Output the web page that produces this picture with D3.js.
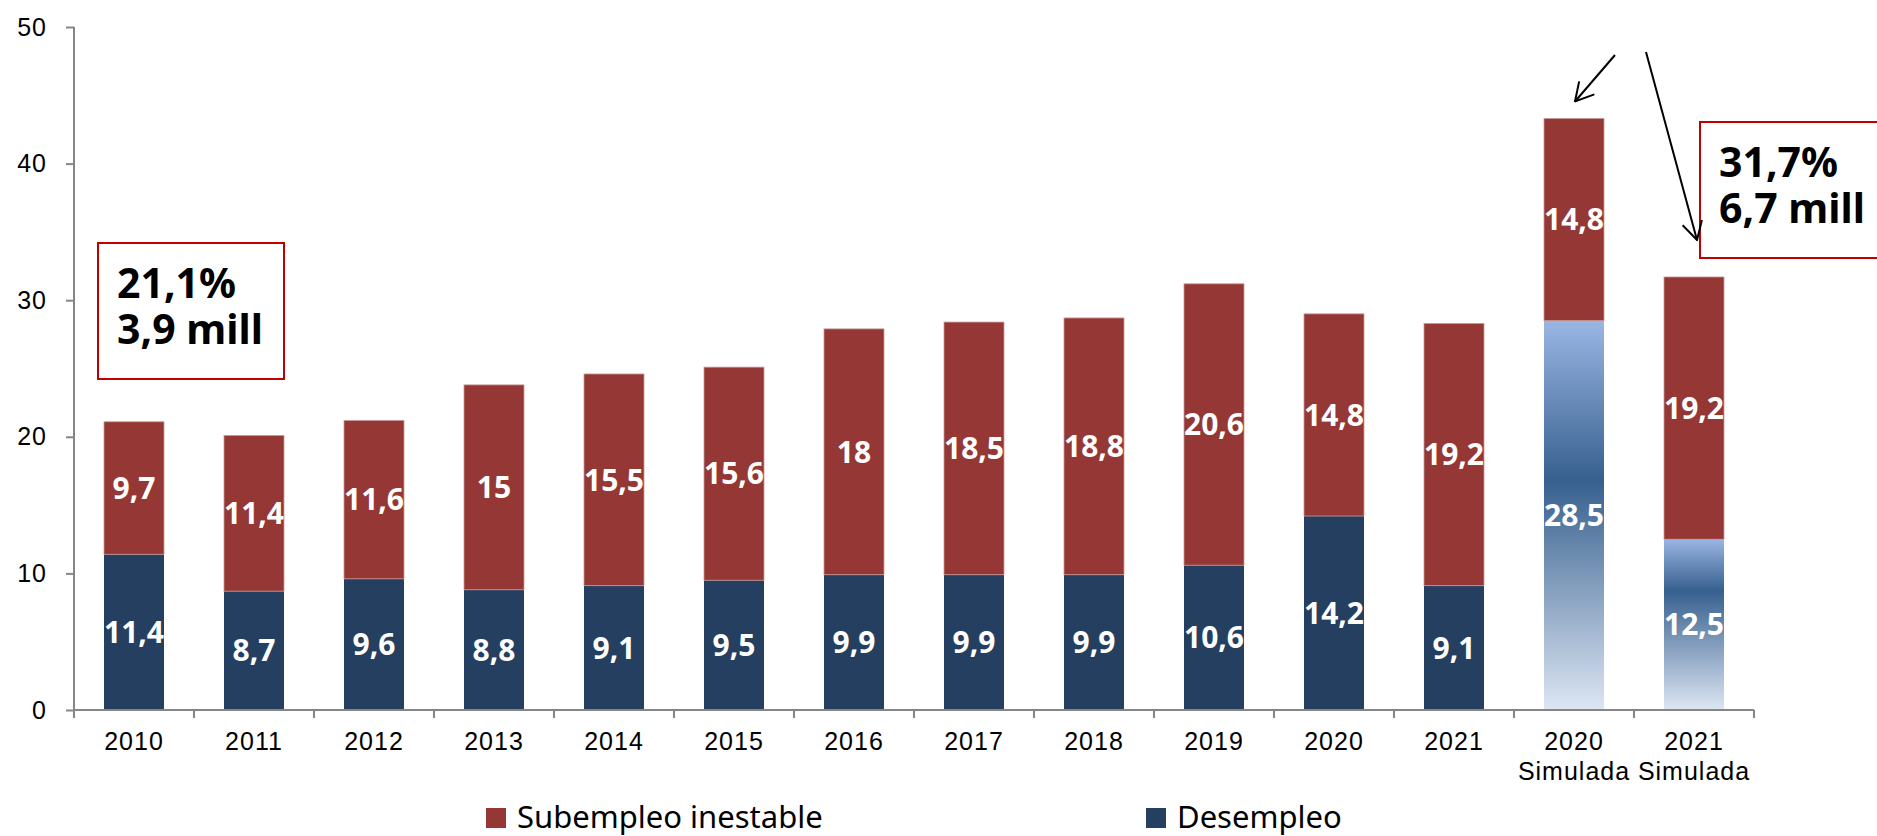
<!DOCTYPE html>
<html>
<head>
<meta charset="utf-8">
<script src="https://cdn.jsdelivr.net/npm/d3@7"></script>
<style>
  html, body { margin: 0; padding: 0; background: #fff; }
  svg { display: block; }
</style>
</head>
<body>
<div class="canvas"></div>
<script>
// data
const categories = ["2010", "2011", "2012", "2013", "2014", "2015", "2016", "2017",
  "2018", "2019", "2020", "2021", "2020 Simulada", "2021 Simulada"];
const desempleo = [11.4, 8.7, 9.6, 8.8, 9.1, 9.5, 9.9, 9.9, 9.9, 10.6, 14.2, 9.1, 28.5, 12.5];
const subempleo = [9.7, 11.4, 11.6, 15, 15.5, 15.6, 18, 18.5, 18.8, 20.6, 14.8, 19.2, 14.8, 19.2];
const yTicks = [0, 10, 20, 30, 40, 50];
const legendLabels = ["Subempleo inestable", "Desempleo"];
const boxLeft = ["21,1%", "3,9 mill"];
const boxRight = ["31,7%", "6,7 mill"];

const W = 1877, H = 836;
const red = "#953735", navy = "#243f60", axisGray = "#868686", boxRed = "#c00000";

const svg = d3.select('.canvas')
  .append('svg')
  .attr('width', W)
  .attr('height', H);

svg.append("rect").attr("width", W).attr("height", H).attr("fill", "#fff");

const x = d3.scaleBand().domain(categories).range([74, 1754]).padding(0);
const y = d3.scaleLinear().domain([0, 50]).range([710, 27]);
const barW = x.bandwidth() * 0.5;

const table = categories.map((c, i) => ({ cat: c, desempleo: desempleo[i], subempleo: subempleo[i] }));
const series = d3.stack().keys(["desempleo", "subempleo"])(table);

// gradients for the simulated bars
const defs = svg.append("defs");
const simIdx = categories.map((c, i) => c.includes("Simulada") ? i : -1).filter(i => i >= 0);
const darkStop = [0.41, 0.30];
simIdx.forEach((idx, k) => {
  const g = defs.append("linearGradient")
      .attr("id", "sim" + idx)
      .attr("x1", 0).attr("y1", 0).attr("x2", 0).attr("y2", 1);
  g.append("stop").attr("offset", 0).attr("stop-color", "#9ab6e4");
  g.append("stop").attr("offset", darkStop[k]).attr("stop-color", "#37608f");
  g.append("stop").attr("offset", 1).attr("stop-color", "#dde6f3");
});

defs.append("marker")
    .attr("id", "head")
    .attr("viewBox", "0 0 20 22")
    .attr("refX", 19).attr("refY", 11)
    .attr("markerWidth", 20).attr("markerHeight", 22)
    .attr("markerUnits", "userSpaceOnUse")
    .attr("orient", "auto")
  .append("path")
    .attr("d", "M1,1 L19,11 L1,21")
    .attr("fill", "none")
    .attr("stroke", "#000")
    .attr("stroke-width", 2);

// bars
series.forEach(s => {
  const g = svg.append("g");
  g.selectAll("rect").data(s).enter().append("rect")
      .attr("x", d => x(d.data.cat) + (x.bandwidth() - barW) / 2)
      .attr("y", d => y(d[1]))
      .attr("width", barW)
      .attr("height", d => y(d[0]) - y(d[1]))
      .attr("fill", (d, i) => {
        if (s.key === "subempleo") return red;
        return simIdx.includes(i) ? "url(#sim" + i + ")" : navy;
      })
      .attr("stroke", s.key === "subempleo" ? "#c89a99" : "none")
      .attr("stroke-width", 0.8);

  g.selectAll("text").data(s).enter().append("text")
      .attr("x", d => x(d.data.cat) + x.bandwidth() / 2)
      .attr("y", d => (y(d[0]) + y(d[1])) / 2)
      .attr("dy", "0.36em")
      .attr("text-anchor", "middle")
      .style("font-family", "'Noto Sans', sans-serif")
      .style("font-weight", "bold")
      .style("font-size", "30px")
      .style("fill", "#fff")
      .text(d => String(+(d[1] - d[0]).toFixed(1)).replace(".", ","));
});

// y axis
const yAxis = svg.append("g")
    .attr("transform", "translate(74,0)")
    .call(d3.axisLeft(y).tickValues(yTicks).tickSize(8).tickPadding(19));
yAxis.select(".domain").remove();
yAxis.append("line")
    .attr("x1", 0).attr("x2", 0).attr("y1", y(50)).attr("y2", y(0) + 8)
    .attr("stroke", axisGray).attr("stroke-width", 2);
yAxis.selectAll(".tick line").attr("stroke", axisGray).attr("stroke-width", 2);
yAxis.selectAll(".tick text")
    .style("font-family", "'Liberation Sans', Arial, sans-serif")
    .style("font-size", "25px")
    .style("letter-spacing", "1px")
    .style("fill", "#000");

// x axis
const xAxis = svg.append("g");
xAxis.append("line")
    .attr("x1", x.range()[0]).attr("x2", x.range()[1])
    .attr("y1", y(0)).attr("y2", y(0))
    .attr("stroke", axisGray).attr("stroke-width", 2);
const bounds = categories.map(c => x(c)).concat([x.range()[1]]);
xAxis.selectAll("line.tk").data(bounds).enter().append("line")
    .attr("class", "tk")
    .attr("x1", d => d).attr("x2", d => d)
    .attr("y1", y(0)).attr("y2", y(0) + 8)
    .attr("stroke", axisGray).attr("stroke-width", 2);
const xl = xAxis.selectAll("text").data(categories).enter().append("text")
    .attr("x", d => x(d) + x.bandwidth() / 2)
    .attr("y", 750)
    .attr("text-anchor", "middle")
    .style("font-family", "'Liberation Sans', Arial, sans-serif")
    .style("font-size", "25px")
    .style("letter-spacing", "1px")
    .style("fill", "#000");
xl.each(function (d) {
  const parts = d.split(" ");
  const t = d3.select(this);
  parts.forEach((p, j) => {
    t.append("tspan")
        .attr("x", x(d) + x.bandwidth() / 2)
        .attr("dy", j === 0 ? 0 : 30)
        .text(p);
  });
});

// legend
const legend = svg.append("g")
    .style("font-family", "'Noto Sans', sans-serif")
    .style("font-size", "31px");
const legendPos = [486, 1146];
legendLabels.forEach((l, i) => {
  legend.append("rect")
      .attr("x", legendPos[i]).attr("y", 808)
      .attr("width", 20).attr("height", 20)
      .attr("fill", i === 0 ? red : navy);
  legend.append("text")
      .attr("x", legendPos[i] + 31).attr("y", 828)
      .text(l);
});

// annotation boxes
function box(x0, y0, w, h, lines) {
  const g = svg.append("g");
  g.append("rect")
      .attr("x", x0).attr("y", y0).attr("width", w).attr("height", h)
      .attr("fill", "#fff").attr("stroke", boxRed).attr("stroke-width", 2);
  lines.forEach((t, j) => {
    g.append("text")
        .attr("x", x0 + 19).attr("y", y0 + 55 + j * 46)
        .style("font-family", "'Noto Sans', sans-serif")
        .style("font-weight", "bold")
        .style("font-size", "41px")
        .style("fill", "#000")
        .text(t);
  });
}
box(98, 243, 186, 136, boxLeft);
box(1700, 122, 200, 136, boxRight);

// arrows
const sim0 = categories[12];
svg.append("line")
    .attr("x1", 1615).attr("y1", 55)
    .attr("x2", x(sim0) + x.bandwidth() / 2 + 1)
    .attr("y2", y(desempleo[12] + subempleo[12]) - 17)
    .attr("stroke", "#000").attr("stroke-width", 2)
    .attr("marker-end", "url(#head)");
svg.append("line")
    .attr("x1", 1646).attr("y1", 52)
    .attr("x2", 1697).attr("y2", 240)
    .attr("stroke", "#000").attr("stroke-width", 2)
    .attr("marker-end", "url(#head)");
</script>
</body>
</html>
